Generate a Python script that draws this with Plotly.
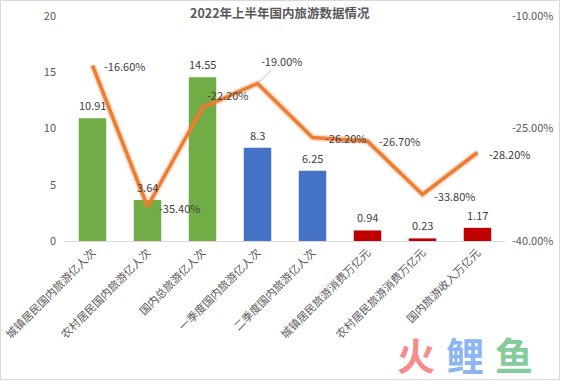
import plotly.graph_objects as go

categories = ["城镇居民国内旅游亿人次", "农村居民国内旅游亿人次", "国内总旅游亿人次",
              "一季度国内旅游亿人次", "二季度国内旅游亿人次", "城镇居民旅游消费万亿元",
              "农村居民旅游消费万亿元", "国内旅游收入万亿元"]
bar_values = [10.91, 3.64, 14.55, 8.3, 6.25, 0.94, 0.23, 1.17]
bar_labels = ["10.91", "3.64", "14.55", "8.3", "6.25", "0.94", "0.23", "1.17"]
growth_pct = [-16.6, -35.4, -22.2, -19.0, -26.2, -26.7, -33.8, -28.2]
left_ticks = [0, 5, 10, 15, 20]
right_ticks = [-40, -25, -10]
title_text = "2022年上半年国内旅游数据情况"

GREEN, BLUE, RED = "#70AD47", "#4472C4", "#C00000"
bar_colors = [GREEN, GREEN, GREEN, BLUE, BLUE, RED, RED, RED]
ORANGE = "#ED7D31"
TXT = "#404040"
AX = "#595959"
FONT = "Noto Sans CJK SC"

ML, MR, MT, MB = 65, 56, 16, 140
W, H = 561, 381
PW, PH = W - ML - MR, H - MT - MB

fig = go.Figure()
fig.add_trace(go.Bar(x=categories, y=bar_values, marker=dict(color=bar_colors, line=dict(width=0)),
                     width=0.5, yaxis="y", hoverinfo="skip"))
# halo under the line
fig.add_trace(go.Scatter(x=categories, y=growth_pct, yaxis="y2", mode="lines",
                         line=dict(color="rgba(237,125,49,0.25)", width=7), hoverinfo="skip"))
fig.add_trace(go.Scatter(x=categories, y=growth_pct, yaxis="y2", mode="lines",
                         line=dict(color=ORANGE, width=3.5), hoverinfo="skip"))

annotations = []
for c, v, t in zip(categories, bar_values, bar_labels):
    annotations.append(dict(x=c, y=v, xref="x", yref="y", text=t, showarrow=False,
                            yshift=13, yanchor="middle",
                            font=dict(family=FONT, size=11, color=TXT)))

# (xshift, yshift) of each percent label, leader line for the 4th
pct_offsets = [(9, 0), (9, -1), (2, 13), None, (10, 0), (9, 0), (9, -1), (9, -1)]
for c, v, off in zip(categories, growth_pct, pct_offsets):
    txt = f"{v:.2f}%"
    if off is None:
        annotations.append(dict(x=c, y=v, xref="x", yref="y2", text=txt, showarrow=True,
                                ax=24, ay=-23, arrowhead=0, arrowwidth=0.7,
                                arrowcolor="#a6a6a6", standoff=0, startstandoff=0,
                                font=dict(family=FONT, size=11, color=TXT)))
    else:
        annotations.append(dict(x=c, y=v, xref="x", yref="y2", text=txt, showarrow=False,
                                xanchor="left", yanchor="middle",
                                xshift=off[0], yshift=off[1],
                                font=dict(family=FONT, size=11, color=TXT)))

# title
annotations.append(dict(x=(280 - ML) / PW, y=(H - MB - 12) / PH, xref="paper", yref="paper",
                        text=f"<b>{title_text}</b>",
                        showarrow=False, xanchor="center", yanchor="middle",
                        font=dict(family=FONT, size=12.5, color=AX)))
# watermark
for ch, col, xc in [("火", "rgba(244,110,110,0.8)", 416), ("鲤", "rgba(110,160,240,0.8)", 465),
                    ("鱼", "rgba(100,190,130,0.8)", 514)]:
    annotations.append(dict(x=(xc - ML) / PW, y=(H - MB - 353) / PH, xref="paper", yref="paper",
                            text=f"<b>{ch}</b>", showarrow=False, xanchor="center", yanchor="middle",
                            font=dict(family=FONT, size=38, color=col)))

fig.update_layout(
    width=W, height=H,
    margin=dict(l=ML, r=MR, t=MT, b=MB, autoexpand=False),
    paper_bgcolor="white", plot_bgcolor="white",
    showlegend=False,
    bargap=0.5,
    font=dict(family=FONT, size=11, color=AX),
    xaxis=dict(type="category", range=[-0.5, len(categories) - 0.5], tickangle=-45,
               showgrid=False, zeroline=False, showline=True, linecolor="#d9d9d9", linewidth=1,
               ticks="", tickfont=dict(family=FONT, size=11, color=AX)),
    yaxis=dict(range=[0, 20], tickvals=left_ticks, showgrid=False, zeroline=False,
               showline=False, ticks="", ticklabelstandoff=8,
               tickfont=dict(family=FONT, size=11, color=AX)),
    yaxis2=dict(range=[-40, -10], overlaying="y", side="right", tickvals=right_ticks,
                ticktext=[f"{v:.2f}%" for v in right_ticks], showgrid=False, zeroline=False,
                showline=False, ticks="", ticklabelstandoff=6,
                tickfont=dict(family=FONT, size=11, color=AX)),
    annotations=annotations,
    shapes=[dict(type="rect", xref="paper", yref="paper",
                 x0=-(ML - 0.5) / PW, x1=1 + (MR - 1.5) / PW,
                 y0=-(MB - 1.5) / PH, y1=1 + (MT - 0.5) / PH,
                 line=dict(color="#d9d9d9", width=1), layer="below")],
)

fig.write_html("out.html", config={"displayModeBar": False},
               post_script="document.body.style.margin='0';document.body.style.overflow='hidden';")
